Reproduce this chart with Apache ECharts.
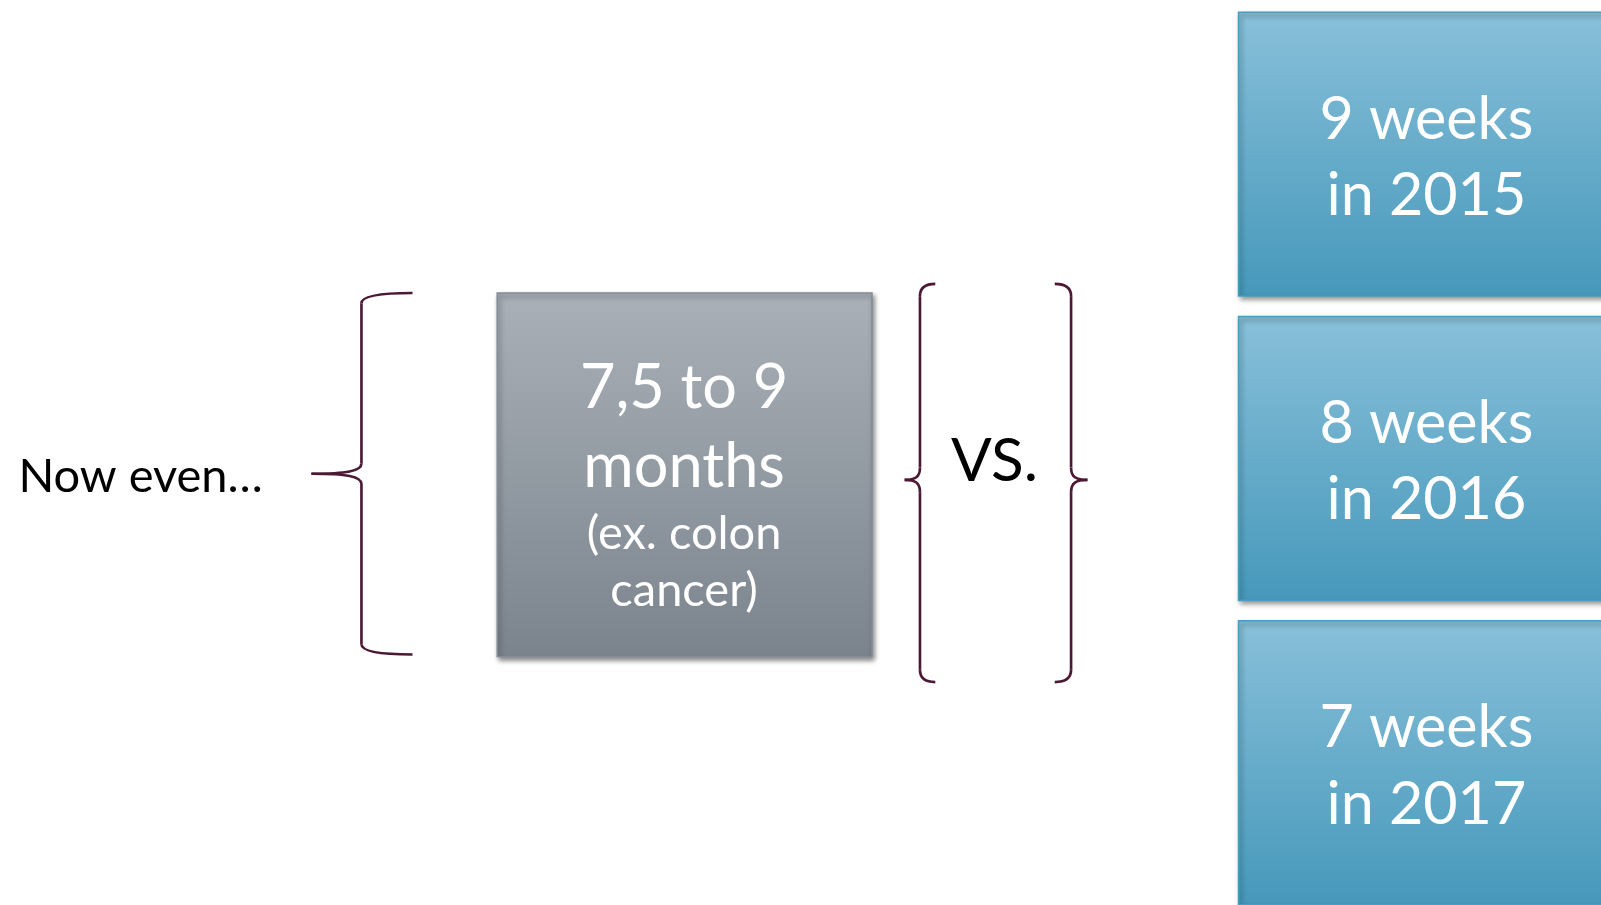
<!DOCTYPE html>
<html><head><meta charset="utf-8">
<script src="https://cdn.jsdelivr.net/npm/echarts@6/dist/echarts.min.js"></script>
<style>html,body{margin:0;padding:0;background:#fff}#c{width:1601px;height:905px}</style>
</head><body><div id="c"></div>
<script>
const leadText = ['Now even…'];
const grayLines = ['7,5 to 9', 'months', '(ex. colon', 'cancer)'];
const vsText = ['VS.'];
const blueWeeks = ['9 weeks', '8 weeks', '7 weeks'];
const blueYears = ['in 2015', 'in 2016', 'in 2017'];

const FONT = 'Lato, "Open Sans", sans-serif';
const BRACE = '#4b1934';
const LS = {stroke: BRACE, lineWidth: 2.6, fill: 'none'};
const K = 1601 / 1568;
function grad(c0, c1) {
  return {type: 'linear', x: 0, y: 0, x2: 0, y2: 1, colorStops: [{offset: 0, color: c0}, {offset: 1, color: c1}]};
}
const chart = echarts.init(document.getElementById('c'), null, {renderer: 'canvas'});
const els = [];

function brace(xv, armX, tipX, top, mid, bottom, r) {
  const s = Math.sign(armX - xv);
  const t = Math.sign(tipX - xv);
  els.push({type: 'bezierCurve', shape: {x1: armX, y1: top, x2: xv, y2: top + r, cpx1: xv + s * Math.abs(armX - xv) * 0.35, cpy1: top, cpx2: xv, cpy2: top + r * 0.3}, style: LS});
  els.push({type: 'line', shape: {x1: xv, y1: top + r, x2: xv, y2: mid - r}, style: LS});
  els.push({type: 'bezierCurve', shape: {x1: xv, y1: mid - r, x2: tipX, y2: mid, cpx1: xv, cpy1: mid - r * 0.25, cpx2: xv + t * Math.abs(tipX - xv) * 0.3, cpy2: mid}, style: LS});
  els.push({type: 'bezierCurve', shape: {x1: tipX, y1: mid, x2: xv, y2: mid + r, cpx1: xv + t * Math.abs(tipX - xv) * 0.3, cpy1: mid, cpx2: xv, cpy2: mid + r * 0.25}, style: LS});
  els.push({type: 'line', shape: {x1: xv, y1: mid + r, x2: xv, y2: bottom - r}, style: LS});
  els.push({type: 'bezierCurve', shape: {x1: xv, y1: bottom - r, x2: armX, y2: bottom, cpx1: xv, cpy1: bottom - r * 0.3, cpx2: xv + s * Math.abs(armX - xv) * 0.35, cpy2: bottom}, style: LS});
}

// lead text
els.push({type: 'text', x: 18, y: 467, style: {text: leadText[0], font: '46px ' + FONT, fill: '#000', align: 'left', verticalAlign: 'middle'}});

// big left brace
brace(354, 404, 305, 287, 464, 641, 10);

// gray box
els.push({type: 'rect', shape: {x: 487, y: 287, width: 367, height: 356},
  style: {fill: grad('#a9b0b8', '#7b848d'),
    stroke: '#838c95', lineWidth: 1.5, shadowBlur: 5, shadowOffsetX: 2, shadowOffsetY: 3, shadowColor: 'rgba(0,0,0,0.45)'}});
const grayY = [380, 458, 523, 579];
const graySize = [60, 60, 46, 46];
grayLines.forEach((t, i) => {
  els.push({type: 'text', x: 670, y: grayY[i], style: {text: t, font: graySize[i] + 'px ' + FONT, fill: '#fff', align: 'center', verticalAlign: 'middle'}});
});

// middle braces
brace(901, 916, 886, 278, 470, 668, 12);
brace(1049, 1033, 1065, 278, 470, 668, 12);
els.push({type: 'text', x: 974, y: 452, style: {text: vsText[0], font: '59px ' + FONT, fill: '#000', align: 'center', verticalAlign: 'middle'}});

// blue boxes
const boxTop = [12, 310, 608];
blueWeeks.forEach((w, i) => {
  const y0 = boxTop[i];
  els.push({type: 'rect', shape: {x: 1213, y: y0, width: 400, height: 278},
    style: {fill: grad('#88c0d9', '#4698bb'),
      stroke: '#4a9cc0', lineWidth: 1.5, shadowBlur: 5, shadowOffsetX: 2, shadowOffsetY: 3, shadowColor: 'rgba(0,0,0,0.45)'}});
  els.push({type: 'text', x: 1397, y: y0 + 105, style: {text: w, font: '58px ' + FONT, fill: '#fff', align: 'center', verticalAlign: 'middle'}});
  els.push({type: 'text', x: 1397, y: y0 + 180, style: {text: blueYears[i], font: '58px ' + FONT, fill: '#fff', align: 'center', verticalAlign: 'middle'}});
});

chart.setOption({animation: false, graphic: {elements: [{type: 'group', x: 0, y: 0, scaleX: K, scaleY: K, children: els}]}});
</script></body></html>
